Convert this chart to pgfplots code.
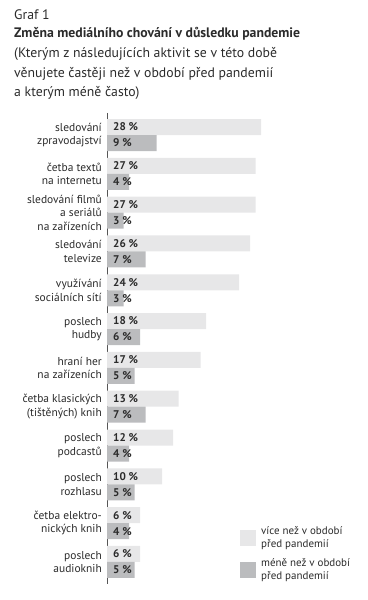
\documentclass[border=0pt]{standalone}
\usepackage{pgfplots}
\pgfplotsset{compat=1.18}
\usepackage{pgfplotstable}
\usepackage{fontspec}
\setmainfont{PT Sans}
\definecolor{lightbar}{HTML}{E7E7E8}
\definecolor{darkbar}{HTML}{BBBCBE}
\definecolor{txt}{HTML}{2B2B2B}
\definecolor{axisc}{HTML}{555555}

\pgfplotstableread{
y more less
0 28 9
1 27 4
2 27 3
3 26 7
4 24 3
5 18 6
6 17 5
7 13 7
8 12 4
9 10 5
10 6 4
11 6 5
}\data

\begin{document}
\begin{tikzpicture}[x=1bp,y=1bp]
\path (0,0) rectangle (367,600);
\node[anchor=base west, inner sep=0, text=txt, font=\fontsize{13.8}{16}\selectfont] at (14,580) {Graf 1};
\node[anchor=base west, inner sep=0, text=txt, font=\fontsize{13.8}{16}\selectfont\bfseries] at (14,562) {Změna mediálního chování v důsledku pandemie};
\node[anchor=base west, inner sep=0, text=txt, font=\fontsize{13.8}{16}\selectfont] at (14,542) {(Kterým z následujících aktivit se v této době};
\node[anchor=base west, inner sep=0, text=txt, font=\fontsize{13.8}{16}\selectfont] at (14,522) {věnujete častěji než v období před pandemií};
\node[anchor=base west, inner sep=0, text=txt, font=\fontsize{13.8}{16}\selectfont] at (14,503) {a kterým méně často)};

\begin{axis}[
  at={(107bp,16bp)}, anchor=south west,
  scale only axis, width=220bp, height=471bp,
  xmin=0, xmax=40, ymin=-0.567, ymax=11.567,
  y dir=reverse,
  axis x line=none, axis y line*=left,
  y axis line style={draw=axisc, line width=0.8pt, -},
  ytick={0,...,11},
  yticklabels={
    {sledování\\zpravodajství},
    {četba textů\\na internetu},
    {sledování filmů\\a seriálů\\na zařízeních},
    {sledování\\televize},
    {využívání\\sociálních sítí},
    {poslech\\hudby},
    {hraní her\\na zařízeních},
    {četba klasických\\(tištěných) knih},
    {poslech\\podcastů},
    {poslech\\rozhlasu},
    {četba elektro-\\nických knih},
    {poslech\\audioknih}},
  major tick length=0,
  yticklabel style={align=right, text=txt, font=\fontsize{11.5}{13.5}\selectfont, inner sep=0, xshift=-5bp},
  bar width=16bp,
  clip=false,
]
\addplot[xbar, fill=lightbar, draw=none, bar shift=8bp] table[x=more, y=y]{\data};
\addplot[xbar, fill=darkbar, draw=none, bar shift=-8bp] table[x=less, y=y]{\data};
\addplot[draw=none, mark=none, nodes near coords={\pgfplotspointmeta\ \%}, point meta=explicit symbolic,
  nodes near coords style={anchor=west, inner sep=0, xshift=6bp, text=txt, font=\fontsize{11.2}{12}\selectfont\bfseries}]
  table[x expr=0, y expr=\thisrow{y}-0.206, meta=more]{\data};
\addplot[draw=none, mark=none, nodes near coords={\pgfplotspointmeta\ \%}, point meta=explicit symbolic,
  nodes near coords style={anchor=west, inner sep=0, xshift=6bp, text=txt, font=\fontsize{11.2}{12}\selectfont\bfseries}]
  table[x expr=0, y expr=\thisrow{y}+0.206, meta=less]{\data};
\end{axis}

\fill[lightbar] (240,54) rectangle (256,70);
\fill[darkbar] (240,22) rectangle (256,38);
\node[anchor=west, align=left, inner sep=0, text=txt, font=\fontsize{11}{12.5}\selectfont] at (261,62) {více než v období\\před pandemií};
\node[anchor=west, align=left, inner sep=0, text=txt, font=\fontsize{11}{12.5}\selectfont] at (261,30) {méně než v období\\před pandemií};
\end{tikzpicture}
\end{document}
